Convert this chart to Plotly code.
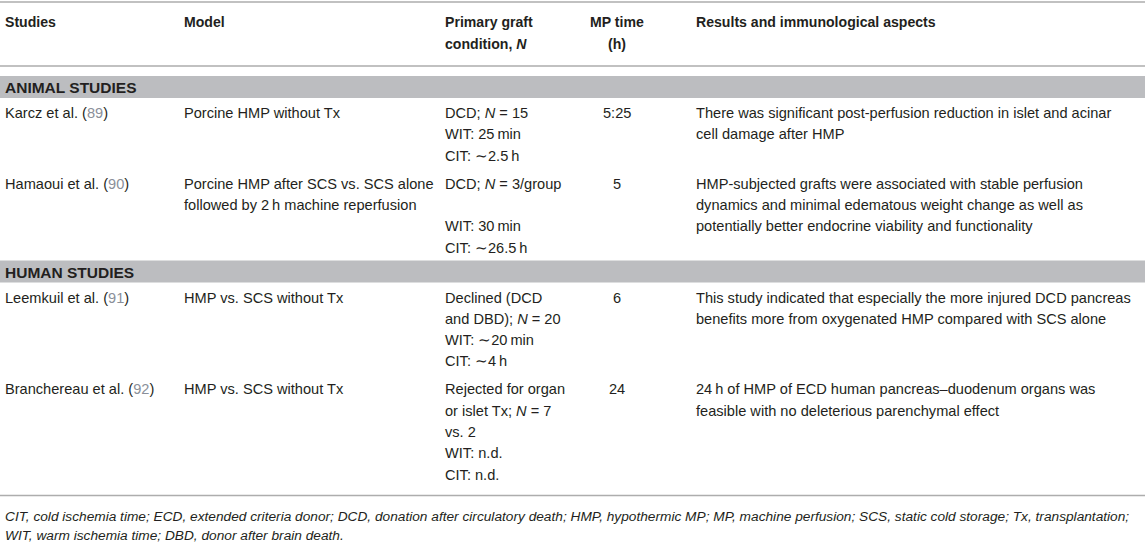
import plotly.graph_objects as go

# ---- table content ----
headers_1 = ["Studies", "Model", "Primary graft", "MP time", "Results and immunological aspects"]
headers_2 = ["", "", "condition, <i>N</i>", "(h)", ""]

groups = ["ANIMAL STUDIES", "ANIMAL STUDIES", "HUMAN STUDIES", "HUMAN STUDIES"]
studies = ["Karcz et al.", "Hamaoui et al.", "Leemkuil et al.", "Branchereau et al."]
refs = ["89", "90", "91", "92"]
models = [
    ["Porcine HMP without Tx"],
    ["Porcine HMP after SCS vs. SCS alone", "followed by 2\u2009h machine reperfusion"],
    ["HMP vs. SCS without Tx"],
    ["HMP vs. SCS without Tx"],
]
conditions = [
    ["DCD; <i>N</i> = 15", "WIT: 25\u2009min", "CIT: \u223c2.5\u2009h"],
    ["DCD; <i>N</i> = 3/group", "", "WIT: 30\u2009min", "CIT: \u223c26.5\u2009h"],
    ["Declined (DCD", "and DBD); <i>N</i> = 20", "WIT: \u223c20\u2009min", "CIT: \u223c4\u2009h"],
    ["Rejected for organ", "or islet Tx; <i>N</i> = 7", "vs. 2", "WIT: n.d.", "CIT: n.d."],
]
mp_times = ["5:25", "5", "6", "24"]
results = [
    ["There was significant post-perfusion reduction in islet and acinar",
     "cell damage after HMP"],
    ["HMP-subjected grafts were associated with stable perfusion",
     "dynamics and minimal edematous weight change as well as",
     "potentially better endocrine viability and functionality"],
    ["This study indicated that especially the more injured DCD pancreas",
     "benefits more from oxygenated HMP compared with SCS alone"],
    ["24\u2009h of HMP of ECD human pancreas\u2013duodenum organs was",
     "feasible with no deleterious parenchymal effect"],
]
footnote = [
    "CIT, cold ischemia time; ECD, extended criteria donor; DCD, donation after circulatory death; "
    "HMP, hypothermic MP; MP, machine perfusion; SCS, static cold storage; Tx, transplantation;",
    "WIT, warm ischemia time; DBD, donor after brain death.",
]

# ---- layout settings ----
W, H = 1145, 544
FONT = "Liberation Sans, Arial, sans-serif"
TEXT = "#231f20"
REF = "#8a8f99"
RULE = "#adadad"
BAND = "#bcbdc0"
FS = 14.6          # body text
FS_HEAD = 14.1     # column headers
FS_GROUP = 15.5    # group band text
FS_NOTE = 13.7     # footnote
LINE_H = 21.3
col_x = [3, 182, 443, 617, 694]   # left edges (MP time is centred)

fig = go.Figure()
shapes = []
ann = []


def text(x, y, s, size=FS, anchor="left", color=TEXT):
    ann.append(dict(x=x, y=y, text=s, showarrow=False, xanchor=anchor,
                    yanchor="middle", font=dict(family=FONT, size=size, color=color)))


def hline(y):
    shapes.append(dict(type="line", x0=0, x1=W, y0=y, y1=y,
                       line=dict(color=RULE, width=1.5), layer="below"))


# header
hline(2)
for i in range(5):
    anchor = "center" if i == 3 else "left"
    text(col_x[i], 22, "<b>" + headers_1[i] + "</b>", size=FS_HEAD, anchor=anchor)
    if headers_2[i]:
        text(col_x[i], 44, "<b>" + headers_2[i] + "</b>", size=FS_HEAD, anchor=anchor)
hline(66)

# body
y = 74
prev_group = None
for k in range(len(studies)):
    if groups[k] != prev_group:
        top = y + 2
        shapes.append(dict(type="rect", x0=0, x1=W, y0=top, y1=top + 22,
                           fillcolor=BAND, line=dict(width=0), layer="below"))
        text(col_x[0], top + 11.5, "<b>" + groups[k] + "</b>", size=FS_GROUP)
        first = top + 22 + 15
        prev_group = groups[k]
    else:
        first = y + 17
    text(col_x[0], first, studies[k] + " (<span style='color:%s'>%s</span>)" % (REF, refs[k]))
    for j, s in enumerate(models[k]):
        text(col_x[1], first + j * LINE_H, s)
    for j, s in enumerate(conditions[k]):
        if s:
            text(col_x[2], first + j * LINE_H, s)
    text(col_x[3], first, mp_times[k], anchor="center")
    for j, s in enumerate(results[k]):
        text(col_x[4], first + j * LINE_H, s)
    n = max(len(models[k]), len(conditions[k]), len(results[k]))
    y = first + (n - 1) * LINE_H + 11

rule = y + 10
hline(rule)
for j, s in enumerate(footnote):
    text(col_x[0], rule + 21 + j * 19, "<i>" + s + "</i>", size=FS_NOTE)

fig.update_layout(
    width=W, height=H, autosize=False,
    margin=dict(l=0, r=0, t=0, b=0),
    paper_bgcolor="white", plot_bgcolor="white",
    xaxis=dict(range=[0, W], visible=False, fixedrange=True),
    yaxis=dict(range=[H, 0], visible=False, fixedrange=True),
    shapes=shapes, annotations=ann, showlegend=False,
)

fig.write_html("out.html", config={"displayModeBar": False},
               post_script="document.body.style.margin='0';")
